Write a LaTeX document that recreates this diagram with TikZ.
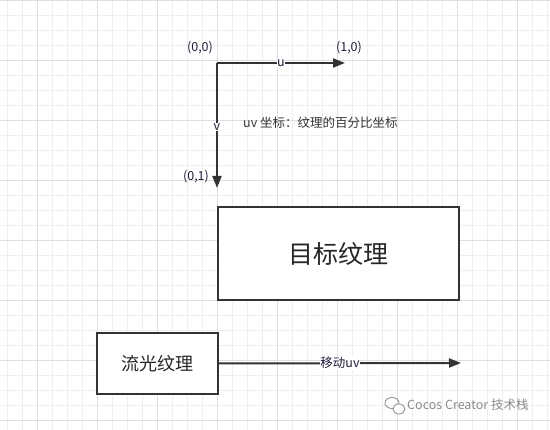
\documentclass[tikz,border=0pt]{standalone}
\usepackage{fontspec}
\setmainfont{Noto Sans CJK SC}
\usetikzlibrary{arrows.meta}
\definecolor{minorgrid}{HTML}{EEEEEE}
\definecolor{majorgrid}{HTML}{DFDFDF}
\definecolor{lineclr}{HTML}{333333}
\definecolor{txtclr}{HTML}{1E1E3C}
\definecolor{wmclr}{HTML}{8A8A8A}
\tikzset{
  conn/.style={draw=lineclr, line width=2pt, -{Triangle[length=12pt,width=9pt]}},
  boxnode/.style={draw=lineclr, line width=2pt, fill=white, inner sep=0pt, anchor=north west, text=black!85},
  coordlbl/.style={text=txtclr, font=\fontsize{12.5}{14}\selectfont, inner sep=1pt},
  edgelbl/.style={text=txtclr, font=\fontsize{12.5}{14}\selectfont, fill=white, inner sep=0.5pt},
}
\begin{document}
\begin{tikzpicture}[x=1pt,y=-1pt]
\useasboundingbox (0,0) rectangle (550,430);
\fill[white] (0,0) rectangle (550,430);
% grid
\foreach \i in {0,...,36} {
  \pgfmathsetmacro{\gx}{7.5+15*\i}
  \draw[minorgrid, line width=1pt] (\gx,0) -- (\gx,430);
}
\foreach \i in {0,...,28} {
  \pgfmathsetmacro{\gy}{1+15*\i}
  \draw[minorgrid, line width=1pt] (0,\gy) -- (550,\gy);
}
\foreach \i in {0,...,8} {
  \pgfmathsetmacro{\gx}{37.5+60*\i}
  \draw[majorgrid, line width=1pt] (\gx,0) -- (\gx,430);
}
\foreach \i in {0,...,7} {
  \pgfmathsetmacro{\gy}{1+60*\i}
  \draw[majorgrid, line width=1pt] (0,\gy) -- (550,\gy);
}
% coordinates
\coordinate (o) at (217,63);
\coordinate (uend) at (345,63);
\coordinate (vend) at (217,188);
\draw[conn] (o) -- node[edgelbl, pos=0.5] {u} (uend);
\draw[conn] (o) -- node[edgelbl, pos=0.515] {v} (vend);
\node[coordlbl] (l00) at (200,48) {(0,0)};
\node[coordlbl] (l10) at (349,48) {(1,0)};
\node[coordlbl] (l01) at (196,177) {(0,1)};
\node[coordlbl, anchor=west, text=black!80] (uvtxt) at (242,123) {uv 坐标：纹理的百分比坐标};
% boxes
\node[boxnode, minimum width=241pt, minimum height=93pt, font=\fontsize{25}{29}\selectfont] (target) at (217,206) {目标纹理};
\node[boxnode, minimum width=121pt, minimum height=61pt, font=\fontsize{18}{21}\selectfont] (flow) at (96,332) {流光纹理};
\coordinate (mvend) at (461,363);
\draw[conn] (flow.east) -- node[edgelbl, pos=0.5] {移动uv} (mvend);
% watermark
\begin{scope}[wmclr, line width=0.8pt]
  \draw (392,403) ellipse (7pt and 5.5pt);
  \draw[fill=white] (399,409) ellipse (6pt and 5pt);
\end{scope}
\node[text=wmclr, font=\fontsize{12.5}{14}\selectfont, anchor=west, inner sep=0pt] (wm) at (407,405) {Cocos Creator 技术栈};
\end{tikzpicture}
\end{document}
